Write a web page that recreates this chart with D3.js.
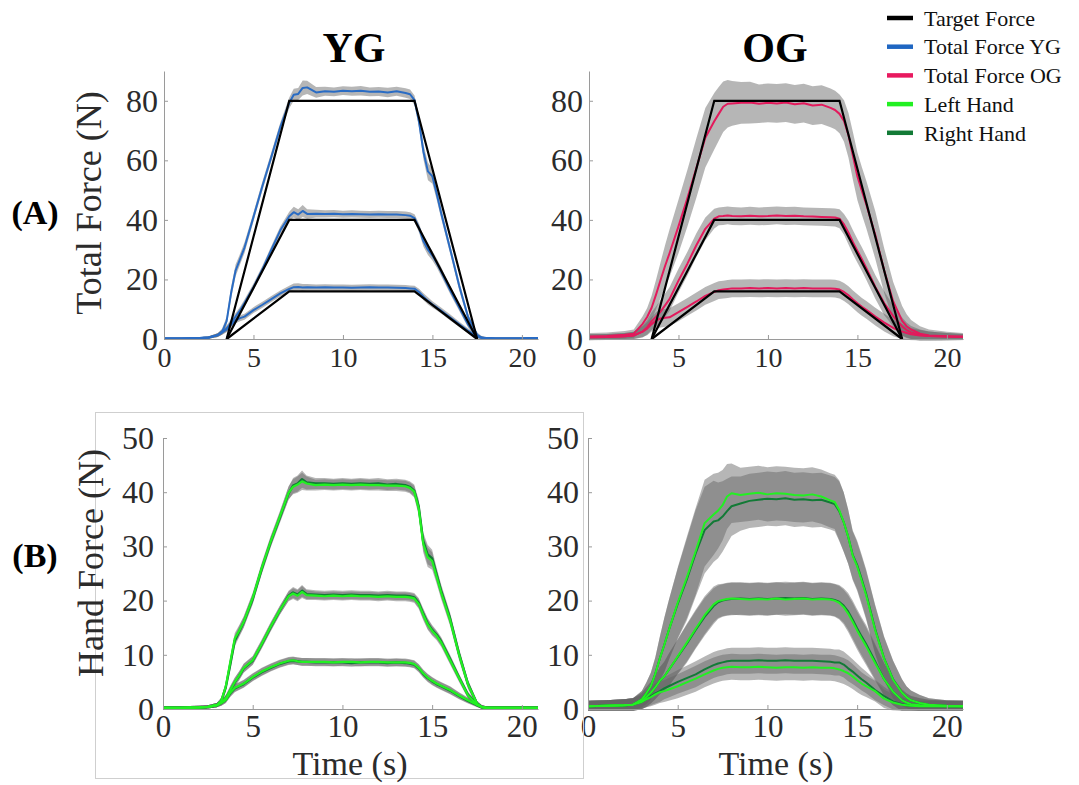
<!DOCTYPE html>
<html>
<head>
<meta charset="utf-8">
<script src="https://cdn.jsdelivr.net/npm/d3@7"></script>
<style>
  body { margin: 0; background: #fff; }
</style>
</head>
<body>
<div id="chart"></div>
<script>

// shared time base (s)
var TIME = [0, 1, 2, 2.5, 3, 3.25, 3.5, 3.75, 4, 4.25,
            4.5, 5, 5.5, 6, 6.5, 7, 7.25, 7.5, 7.75, 8,
            8.5, 9, 9.5, 10, 10.5, 11, 11.5, 12, 12.5, 13,
            13.5, 13.75, 14, 14.25, 14.5, 14.75, 15, 15.25, 15.5, 16,
            16.5, 17, 17.5, 17.75, 18, 18.5, 19, 20, 20.9];

// target force trapezoids
var TARGET_TIME = [3.5, 7, 14, 17.5];
var target16 = [0, 16, 16, 0];
var target40 = [0, 40, 40, 0];
var target80 = [0, 80, 80, 0];

// (A) total force, young group
var ygTotal80 = [0.2, 0.2, 0.3, 0.5, 1.3, 2.5, 6, 15.5, 23, 26.8,
                 30.7, 41, 51.4, 61.2, 71.2, 79.3, 82, 82.3, 84.3, 84.5,
                 82.8, 83.2, 83, 83.4, 83.2, 83.4, 83, 83.1, 82.8, 83.2,
                 82.6, 82.2, 80.2, 73, 62.8, 56.3, 54.6, 48.5, 42, 30,
                 17.8, 7.2, 1.4, 0.5, 0.3, 0.2, 0.2, 0.2, 0.3];
var ygTotal40 = [0.2, 0.2, 0.3, 0.5, 1.3, 2.3, 3.5, 5.5, 7.5, 9.6,
                 12.1, 17.4, 23.4, 30, 36.5, 41.2, 42.6, 41.8, 43, 42,
                 42.1, 42, 42.1, 41.9, 42, 41.9, 41.8, 41.9, 41.8, 41.8,
                 41.6, 41.4, 40.6, 37.3, 32.8, 30, 28, 25.4, 22.5, 16.3,
                 10.6, 4.8, 0.8, 0.4, 0.3, 0.2, 0.2, 0.2, 0.3];
var ygTotal16 = [0.2, 0.2, 0.3, 0.5, 1.3, 2.2, 3.2, 4.8, 6.3, 7.0,
                 7.5, 9.7, 11.5, 13.4, 15.3, 16.8, 17.4, 17.5, 17.3, 17.4,
                 17.3, 17.4, 17.3, 17.3, 17.2, 17.3, 17.4, 17.3, 17.3, 17.2,
                 17.1, 17.0, 16.9, 15.8, 14.2, 12.8, 11.6, 10.6, 9.5, 7.2,
                 4.9, 2.7, 0.8, 0.4, 0.3, 0.2, 0.2, 0.2, 0.3];
var ygSd80 = [0.3, 0.3, 0.3, 0.4, 0.6, 1, 1.5, 2, 2, 1.8,
              1.8, 1.5, 1.5, 1.5, 1.5, 1.8, 2, 2, 2.5, 2.2,
              1.8, 1.5, 1.5, 1.5, 1.5, 1.6, 1.5, 1.5, 1.6, 1.5,
              1.6, 1.6, 1.6, 2, 2.5, 3, 2.5, 2, 1.8, 1.5,
              1.5, 1.2, 0.8, 0.5, 0.4, 0.3, 0.3, 0.3, 0.3];
var ygSd40 = [0.3, 0.3, 0.3, 0.4, 0.6, 0.8, 1, 1.2, 1.2, 1.2,
              1.2, 1.2, 1.2, 1.2, 1.3, 1.5, 1.8, 1.8, 2, 1.6,
              1.3, 1.2, 1.2, 1.2, 1.2, 1.2, 1.2, 1.2, 1.2, 1.2,
              1.2, 1.2, 1.3, 1.5, 1.8, 1.8, 1.6, 1.5, 1.5, 1.3,
              1.2, 1, 0.6, 0.4, 0.3, 0.3, 0.3, 0.3, 0.3];
var ygSd16 = [0.3, 0.3, 0.3, 0.4, 0.6, 0.8, 0.9, 1, 1, 1,
              1, 1, 1, 1, 1, 1.1, 1.2, 1.2, 1.2, 1.1,
              1, 1, 1, 1, 1, 1, 1, 1, 1, 1,
              1, 1, 1, 1.1, 1.2, 1.2, 1.1, 1, 1, 1,
              0.9, 0.8, 0.5, 0.4, 0.3, 0.3, 0.3, 0.3, 0.3];

// (A) total force, old group
var ogTotal80 = [0.8, 1.0, 1.4, 1.8, 5.1, 7.4, 10.5, 15, 19.8, 24.5,
                 28.8, 37.8, 47.3, 57.4, 67.6, 73.1, 75.6, 78, 79, 79.1,
                 79.3, 79.4, 79, 79.3, 79.1, 79.4, 78.8, 79.2, 78.4, 78.7,
                 77.6, 76.9, 75.6, 73.2, 68.4, 61.4, 54.6, 49.7, 45.1, 34.9,
                 22.9, 12.6, 6.1, 4.3, 3.2, 1.8, 1.2, 0.9, 0.8];
var ogTotal40 = [0.6, 0.7, 0.9, 1.2, 2.5, 4, 6, 7.5, 9.2, 11.3,
                 13.4, 19.6, 25.3, 31.5, 37, 40.4, 41.2, 41.3, 41.5, 41.3,
                 41.2, 41.4, 41.2, 41.3, 41.5, 41.3, 41.4, 41.2, 41.1, 41.0,
                 40.9, 40.8, 40.4, 38.5, 35.7, 32.5, 29.6, 26.8, 23.8, 17.5,
                 12, 7.7, 4.2, 3.0, 2.2, 1.4, 1.0, 0.8, 0.7];
var ogTotal16 = [0.6, 0.7, 0.9, 1.2, 2.5, 3.5, 5, 6.2, 6.9, 7.1,
                 7.3, 9, 10.8, 12.6, 14.5, 15.8, 16.4, 16.6, 16.8, 17,
                 17, 17.1, 17, 17.1, 17, 17.1, 17, 17.1, 17, 17,
                 17, 16.9, 16.6, 15.8, 14.7, 13.3, 12, 10.8, 9.8, 7.5,
                 5.5, 3.7, 2.5, 2.0, 1.6, 1.2, 1.0, 0.8, 0.7];
var ogSd80 = [1.2, 1.2, 1.3, 1.4, 2.5, 3, 4, 5, 6, 7,
              8, 9, 9.5, 10, 10, 9.5, 9, 8.5, 8, 7.5,
              7, 7, 6.5, 6.5, 6.5, 6.5, 6.5, 6.5, 6.5, 6.5,
              6.5, 6.5, 6.5, 7, 7.5, 8, 8, 8, 8, 8,
              7.5, 6.5, 5, 4, 3.2, 2.5, 2, 1.5, 1.2];
var ogSd40 = [1, 1, 1.1, 1.2, 2, 2.5, 3, 3.5, 4, 4,
              4, 4, 4, 4, 3.8, 3.3, 3, 3, 3, 3,
              3, 3, 3, 3, 3, 3, 3, 3, 3, 3,
              3, 3, 3.2, 3.5, 4, 4, 4, 4, 4, 4,
              4, 3.5, 3, 2.5, 2.2, 1.8, 1.5, 1.2, 1];
var ogSd16 = [1, 1, 1.1, 1.2, 1.8, 2.2, 2.5, 2.8, 3, 3,
              3, 3, 3, 3, 3, 3, 3, 3, 3, 3,
              3, 3, 3, 3, 3, 3, 3, 3, 3, 3,
              3, 3, 3, 3, 3, 3, 3, 3, 3, 3,
              3, 2.8, 2.5, 2.2, 2, 1.8, 1.5, 1.2, 1];

// (B) hand force, young group
var ygLeft40 = [0.2, 0.2, 0.3, 0.4, 0.7, 1.5, 4.2, 8.7, 13, 14.5,
                16.1, 20.5, 26, 30.9, 35.4, 39.9, 41, 41.4, 42, 41.6,
                41.3, 41.4, 41.3, 41.4, 41.3, 41.4, 41.3, 41.3, 41.2, 41.2,
                41.1, 40.8, 40.1, 37, 30.5, 28, 27.3, 24.4, 21.5, 16.4,
                10, 4.5, 1, 0.4, 0.2, 0.2, 0.2, 0.2, 0.2];
var ygRight40 = [0.2, 0.2, 0.3, 0.4, 0.7, 1.5, 4.0, 8.2, 12.6, 14.3,
                 16, 20.3, 25.8, 30.8, 35.2, 39.8, 41.2, 41.6, 42.4, 41.8,
                 41.6, 41.6, 41.5, 41.6, 41.5, 41.6, 41.5, 41.6, 41.4, 41.5,
                 41.3, 41.0, 40.3, 37.4, 31, 28.5, 27.8, 24.8, 21.8, 16.7,
                 10.2, 4.6, 1, 0.4, 0.2, 0.2, 0.2, 0.2, 0.2];
var ygLeft20 = [0.2, 0.2, 0.3, 0.4, 0.7, 1.2, 2, 3.5, 5, 6.2,
                7.6, 9, 12, 15.2, 18.2, 20.8, 21.3, 20.9, 21.6, 21,
                20.9, 20.8, 20.9, 20.8, 20.9, 20.8, 20.8, 20.7, 20.8, 20.7,
                20.7, 20.6, 20.4, 19.4, 17.4, 15.6, 14.4, 13.5, 12.3, 9,
                5.7, 2.5, 0.8, 0.4, 0.2, 0.2, 0.2, 0.2, 0.2];
var ygRight20 = [0.2, 0.2, 0.3, 0.4, 0.7, 1.2, 2, 3.4, 4.9, 6.1,
                 7.5, 8.9, 11.9, 15.1, 18.1, 20.9, 21.5, 21.1, 21.8, 21.2,
                 21.1, 21, 21.1, 21, 21.1, 21, 21, 20.9, 21, 20.9,
                 20.9, 20.8, 20.6, 19.6, 17.6, 15.8, 14.6, 13.7, 12.5, 9.2,
                 5.8, 2.6, 0.8, 0.4, 0.2, 0.2, 0.2, 0.2, 0.2];
var ygLeft8 = [0.2, 0.2, 0.3, 0.4, 0.7, 1.1, 1.7, 3, 3.9, 4.3,
               4.7, 5.9, 6.9, 7.7, 8.4, 8.9, 9, 8.8, 8.7, 8.7,
               8.7, 8.7, 8.6, 8.7, 8.7, 8.6, 8.7, 8.7, 8.6, 8.6,
               8.6, 8.5, 8.3, 7.6, 6.6, 5.8, 5.2, 4.7, 4.3, 3.5,
               2.5, 1.6, 0.8, 0.4, 0.2, 0.2, 0.2, 0.2, 0.2];
var ygRight8 = [0.2, 0.2, 0.3, 0.4, 0.7, 1.1, 1.7, 2.9, 3.8, 4.2,
                4.6, 5.8, 6.8, 7.6, 8.3, 8.8, 8.9, 8.8, 8.7, 8.7,
                8.6, 8.6, 8.6, 8.6, 8.5, 8.6, 8.6, 8.6, 8.5, 8.6,
                8.5, 8.4, 8.2, 7.5, 6.5, 5.7, 5.1, 4.6, 4.2, 3.4,
                2.4, 1.5, 0.7, 0.4, 0.2, 0.2, 0.2, 0.2, 0.2];
var ygHandSd40 = [0.3, 0.3, 0.3, 0.3, 0.4, 0.6, 0.8, 1, 1, 1,
                  1, 1, 1, 1, 1, 1.2, 1.4, 1.5, 1.6, 1.3,
                  1, 1, 1, 1, 1, 1, 1, 1, 1, 1,
                  1, 1, 1.1, 1.3, 1.6, 1.8, 1.6, 1.3, 1.2, 1.1,
                  1, 0.8, 0.5, 0.4, 0.3, 0.3, 0.3, 0.3, 0.3];
var ygHandSd20 = [0.3, 0.3, 0.3, 0.3, 0.4, 0.5, 0.6, 0.8, 0.8, 0.8,
                  0.8, 0.8, 0.8, 0.8, 0.8, 0.9, 1, 1, 1.1, 0.9,
                  0.8, 0.8, 0.8, 0.8, 0.8, 0.8, 0.8, 0.8, 0.8, 0.8,
                  0.8, 0.8, 0.8, 0.9, 1, 1, 0.9, 0.8, 0.8, 0.8,
                  0.7, 0.6, 0.4, 0.3, 0.3, 0.3, 0.3, 0.3, 0.3];
var ygHandSd8 = [0.3, 0.3, 0.3, 0.3, 0.4, 0.5, 0.6, 0.7, 0.7, 0.7,
                 0.7, 0.7, 0.7, 0.7, 0.7, 0.7, 0.7, 0.7, 0.7, 0.7,
                 0.7, 0.7, 0.7, 0.7, 0.7, 0.7, 0.7, 0.7, 0.7, 0.7,
                 0.7, 0.7, 0.7, 0.7, 0.7, 0.7, 0.7, 0.7, 0.7, 0.7,
                 0.6, 0.5, 0.4, 0.3, 0.3, 0.3, 0.3, 0.3, 0.3];

// (B) hand force, old group
var ogLeft40 = [0.5, 0.6, 0.7, 0.8, 1.8, 2.9, 4.2, 6.5, 9.3, 11.8,
                14.5, 19.6, 24.2, 29.1, 34.3, 35.9, 36.6, 37.6, 39.2, 39.8,
                39.5, 39.7, 39.9, 39.6, 39.8, 39.7, 39.5, 39.4, 39.6, 39.2,
                38.5, 38.2, 36.7, 34.5, 31.8, 28.3, 26.3, 23.7, 21, 14.6,
                9.3, 5.4, 3, 2.2, 1.6, 1.1, 0.8, 0.6, 0.5];
var ogRight40 = [0.5, 0.6, 0.7, 0.8, 1.8, 2.9, 4.2, 6.5, 9.3, 11.8,
                 14.5, 19.4, 23.8, 28.7, 33, 34.6, 34.8, 35.5, 36.5, 37.4,
                 37.9, 38.4, 38.6, 38.8, 38.7, 38.9, 38.6, 38.7, 38.5, 38.6,
                 38.1, 37.8, 36.5, 34.5, 31.8, 28.5, 26.6, 24, 21.3, 14.8,
                 9.4, 5.5, 3, 2.2, 1.6, 1.1, 0.8, 0.6, 0.5];
var ogLeft20 = [0.5, 0.6, 0.7, 0.8, 1.5, 2.2, 3, 4, 5.2, 6,
                7.2, 9.7, 12.2, 14.8, 17.3, 19.3, 19.9, 20.1, 20.3, 20.4,
                20.3, 20.2, 20.3, 20.2, 20.4, 20.2, 20.3, 20.4, 20.2, 20.3,
                20.2, 20.0, 19.6, 18.8, 17.6, 16.1, 14.5, 13, 11.6, 8.5,
                5.5, 3.2, 1.6, 1.2, 0.9, 0.7, 0.6, 0.5, 0.5];
var ogRight20 = [0.5, 0.6, 0.7, 0.8, 1.5, 2.2, 3, 4, 5.2, 6,
                 7.2, 9.6, 12, 14.6, 17.0, 19.0, 19.7, 20.0, 20.2, 20.3,
                 20.4, 20.3, 20.4, 20.3, 20.4, 20.5, 20.4, 20.5, 20.3, 20.4,
                 20.3, 20.1, 19.8, 19.1, 18, 16.5, 14.9, 13.4, 12, 8.8,
                 5.5, 3.2, 1.6, 1.2, 0.9, 0.7, 0.6, 0.5, 0.5];
var ogLeft8 = [0.5, 0.6, 0.7, 0.8, 1.3, 1.8, 2.2, 2.7, 3.1, 3.3,
               3.6, 4.2, 4.9, 5.6, 6.4, 7.1, 7.4, 7.6, 7.7, 7.8,
               7.7, 7.7, 7.8, 7.7, 7.6, 7.7, 7.7, 7.6, 7.7, 7.6,
               7.6, 7.5, 7.3, 7, 6.6, 6.0, 5.3, 4.7, 4.2, 3.3,
               1.9, 1.2, 0.8, 0.7, 0.6, 0.5, 0.5, 0.5, 0.5];
var ogRight8 = [0.5, 0.6, 0.7, 0.8, 1.3, 1.8, 2.4, 2.9, 3.3, 3.8,
                4.2, 5, 5.7, 6.4, 7.3, 8.1, 8.4, 8.6, 8.8, 8.9,
                8.9, 8.9, 9, 8.9, 8.9, 9, 8.9, 8.9, 8.9, 8.8,
                8.7, 8.6, 8.6, 8.2, 7.5, 6.9, 6.2, 5.5, 4.9, 3.5,
                2.4, 1.4, 0.9, 0.7, 0.6, 0.5, 0.5, 0.5, 0.5];
var ogHandSd40 = [1, 1, 1.1, 1.2, 1.5, 2, 2.5, 3, 4, 5,
                  5.5, 6.5, 7.5, 8, 8, 7.5, 7, 6.5, 6, 5.5,
                  5, 5, 5, 5, 5, 5, 5, 5, 5, 5,
                  5, 5, 5.5, 5.5, 5, 4.5, 4.5, 4.5, 4.5, 4.5,
                  4, 3.5, 2.5, 2, 1.8, 1.5, 1.2, 1, 1];
var ogHandSd20 = [1, 1, 1.1, 1.2, 1.5, 1.8, 2, 2.2, 2.5, 2.7,
                  3, 3.2, 3.5, 3.5, 3.5, 3.3, 3.1, 3, 3, 3,
                  3, 3, 3, 3, 3, 3, 3, 3, 3, 3,
                  3, 3, 3.1, 3.2, 3.4, 3.5, 3.5, 3.5, 3.5, 3.3,
                  3, 2.5, 2, 1.7, 1.5, 1.3, 1.1, 1, 1];
var ogHandSd8 = [1, 1, 1.1, 1.2, 1.3, 1.5, 1.7, 1.9, 2, 2,
                 2.1, 2.2, 2.3, 2.4, 2.4, 2.4, 2.4, 2.4, 2.4, 2.4,
                 2.4, 2.4, 2.4, 2.4, 2.4, 2.4, 2.4, 2.4, 2.4, 2.4,
                 2.4, 2.4, 2.4, 2.4, 2.4, 2.3, 2.2, 2.1, 2, 1.9,
                 1.7, 1.5, 1.3, 1.2, 1.1, 1, 1, 1, 1];

var X_TICKS = [0, 5, 10, 15, 20];
var TOTAL_TICKS = [0, 20, 40, 60, 80];
var HAND_TICKS = [0, 10, 20, 30, 40, 50];

var LEGEND_LABELS = ["Target Force", "Total Force YG", "Total Force OG", "Left Hand", "Right Hand"];
var LEGEND_COLORS = ["#000000", "#1f66c2", "#e8195f", "#22f022", "#127a36"];

// ---------------------------------------------------------------

var SERIF = "Liberation Serif, Times New Roman, serif";
var AXIS_COLOR = "#9a9a9a";
var TEXT_COLOR = "#2b2b2b";
var BAND_FILL = "#646464";
var X_MAX = 20.9;

var svg = d3.select("#chart").append("svg")
  .attr("width", 1079)
  .attr("height", 785)
  .style("font-family", SERIF);

function toPoints(mean, sd) {
  return TIME.map(function(t, i) { return { t: t, m: mean[i], s: sd[i] }; });
}

var clipCount = 0;

function drawPanel(p) {
  var x = d3.scaleLinear().domain([0, X_MAX]).range([p.x0, p.x1]);
  var y = d3.scaleLinear().domain([0, p.ymax]).range([p.y0, p.y1]);

  var g = svg.append("g");
  var clipId = "clip" + (clipCount++);
  g.append("clipPath").attr("id", clipId).append("rect")
    .attr("x", p.x0).attr("y", p.y1)
    .attr("width", p.x1 - p.x0).attr("height", p.y0 - p.y1 + 1.5);

  var plot = g.append("g").attr("clip-path", "url(#" + clipId + ")");

  var area = d3.area()
    .x(function(d) { return x(d.t); })
    .y0(function(d) { return y(d.m - d.s); })
    .y1(function(d) { return y(d.m + d.s); });

  var line = d3.line()
    .x(function(d) { return x(d.t); })
    .y(function(d) { return y(d.m); });

  // shaded bands first
  p.series.forEach(function(s) {
    plot.append("path")
      .datum(toPoints(s.mean, s.sd))
      .attr("d", area)
      .attr("fill", BAND_FILL)
      .attr("fill-opacity", 0.47);
  });

  p.series.forEach(function(s) {
    plot.append("path")
      .datum(toPoints(s.mean, s.sd))
      .attr("d", line)
      .attr("fill", "none")
      .attr("stroke", s.color)
      .attr("stroke-width", s.width)
      .attr("stroke-linejoin", "round");
  });

  if (p.targets) {
    var tline = d3.line()
      .x(function(d, i) { return x(TARGET_TIME[i]); })
      .y(function(d) { return y(d); });
    p.targets.forEach(function(tv) {
      plot.append("path")
        .datum(tv)
        .attr("d", tline)
        .attr("fill", "none")
        .attr("stroke", "#000")
        .attr("stroke-width", 2.2);
    });
  }

  var xa = g.append("g")
    .attr("transform", "translate(0," + p.y0 + ")")
    .call(d3.axisBottom(x).tickValues(X_TICKS).tickSize(-4).tickSizeOuter(0).tickPadding(p.xPad));
  var ya = g.append("g")
    .attr("transform", "translate(" + p.x0 + ",0)")
    .call(d3.axisLeft(y).tickValues(p.yticks).tickSize(-4).tickSizeOuter(0).tickPadding(p.yPad));

  [xa, ya].forEach(function(a) {
    a.attr("font-family", null).style("font-family", SERIF);
    a.select(".domain").attr("stroke", AXIS_COLOR);
    a.selectAll(".tick line").attr("stroke", AXIS_COLOR);
    a.selectAll(".tick text").attr("fill", TEXT_COLOR);
  });
  xa.attr("font-size", p.xFont);
  ya.attr("font-size", p.yFont);
}

// (A) YG
drawPanel({
  x0: 164, x1: 538, y0: 339, y1: 71, ymax: 90,
  yticks: TOTAL_TICKS, xFont: 28, yFont: 32, xPad: 8, yPad: 6,
  series: [
    { mean: ygTotal80, sd: ygSd80, color: "#2a6cc4", width: 2 },
    { mean: ygTotal40, sd: ygSd40, color: "#2a6cc4", width: 2 },
    { mean: ygTotal16, sd: ygSd16, color: "#2a6cc4", width: 2 }
  ],
  targets: [target80, target40, target16]
});

// (A) OG
drawPanel({
  x0: 589, x1: 963, y0: 339, y1: 71, ymax: 90,
  yticks: TOTAL_TICKS, xFont: 28, yFont: 32, xPad: 8, yPad: 6,
  series: [
    { mean: ogTotal80, sd: ogSd80, color: "#e3195c", width: 2 },
    { mean: ogTotal40, sd: ogSd40, color: "#e3195c", width: 2 },
    { mean: ogTotal16, sd: ogSd16, color: "#e3195c", width: 2 }
  ],
  targets: [target80, target40, target16]
});

// (B) YG
drawPanel({
  x0: 163, x1: 538, y0: 709, y1: 438, ymax: 50,
  yticks: HAND_TICKS, xFont: 31, yFont: 32, xPad: 6, yPad: 9,
  series: [
    { mean: ygRight40, sd: ygHandSd40, color: "#127a36", width: 2.4 },
    { mean: ygRight20, sd: ygHandSd20, color: "#127a36", width: 2.4 },
    { mean: ygRight8, sd: ygHandSd8, color: "#127a36", width: 2.4 },
    { mean: ygLeft40, sd: ygHandSd40, color: "#22f022", width: 2.2 },
    { mean: ygLeft20, sd: ygHandSd20, color: "#22f022", width: 2.2 },
    { mean: ygLeft8, sd: ygHandSd8, color: "#22f022", width: 2.2 }
  ]
});

// (B) OG
drawPanel({
  x0: 588, x1: 963, y0: 709, y1: 438, ymax: 50,
  yticks: HAND_TICKS, xFont: 31, yFont: 32, xPad: 6, yPad: 9,
  series: [
    { mean: ogRight40, sd: ogHandSd40, color: "#127a36", width: 2 },
    { mean: ogRight20, sd: ogHandSd20, color: "#127a36", width: 2 },
    { mean: ogRight8, sd: ogHandSd8, color: "#127a36", width: 2 },
    { mean: ogLeft40, sd: ogHandSd40, color: "#22f022", width: 2 },
    { mean: ogLeft20, sd: ogHandSd20, color: "#22f022", width: 2 },
    { mean: ogLeft8, sd: ogHandSd8, color: "#22f022", width: 2 }
  ]
});

// light frame around the bottom-left panel
svg.append("rect")
  .attr("x", 95.5).attr("y", 412.5)
  .attr("width", 488).attr("height", 366)
  .attr("fill", "none")
  .attr("stroke", "#cfcfcf")
  .attr("stroke-width", 1);

// titles and labels
svg.append("text").attr("x", 354).attr("y", 62).attr("text-anchor", "middle")
  .attr("font-size", 42).attr("font-weight", "bold").text("YG");
svg.append("text").attr("x", 775).attr("y", 62).attr("text-anchor", "middle")
  .attr("font-size", 42).attr("font-weight", "bold").text("OG");

svg.append("text").attr("x", 35).attr("y", 224).attr("text-anchor", "middle")
  .attr("font-size", 34).attr("font-weight", "bold").text("(A)");
svg.append("text").attr("x", 35).attr("y", 567).attr("text-anchor", "middle")
  .attr("font-size", 34).attr("font-weight", "bold").text("(B)");

svg.append("text")
  .attr("transform", "translate(101,203) rotate(-90)")
  .attr("text-anchor", "middle").attr("font-size", 36).attr("fill", TEXT_COLOR)
  .text("Total Force (N)");
svg.append("text")
  .attr("transform", "translate(103,563) rotate(-90)")
  .attr("text-anchor", "middle").attr("font-size", 36).attr("fill", TEXT_COLOR)
  .text("Hand Force (N)");

svg.append("text").attr("x", 350).attr("y", 775).attr("text-anchor", "middle")
  .attr("font-size", 34).attr("fill", TEXT_COLOR).text("Time (s)");
svg.append("text").attr("x", 776).attr("y", 775).attr("text-anchor", "middle")
  .attr("font-size", 34).attr("fill", TEXT_COLOR).text("Time (s)");

// legend
var legend = svg.append("g").attr("transform", "translate(887,18)");
LEGEND_LABELS.forEach(function(label, i) {
  var row = legend.append("g").attr("transform", "translate(0," + (i * 28.7) + ")");
  row.append("line")
    .attr("x1", 0).attr("x2", 26).attr("y1", 0).attr("y2", 0)
    .attr("stroke", LEGEND_COLORS[i]).attr("stroke-width", 4.5);
  row.append("text")
    .attr("x", 37).attr("y", 0).attr("dy", "0.35em")
    .attr("font-size", 22).attr("fill", "#111")
    .text(label);
});

</script>
</body>
</html>
